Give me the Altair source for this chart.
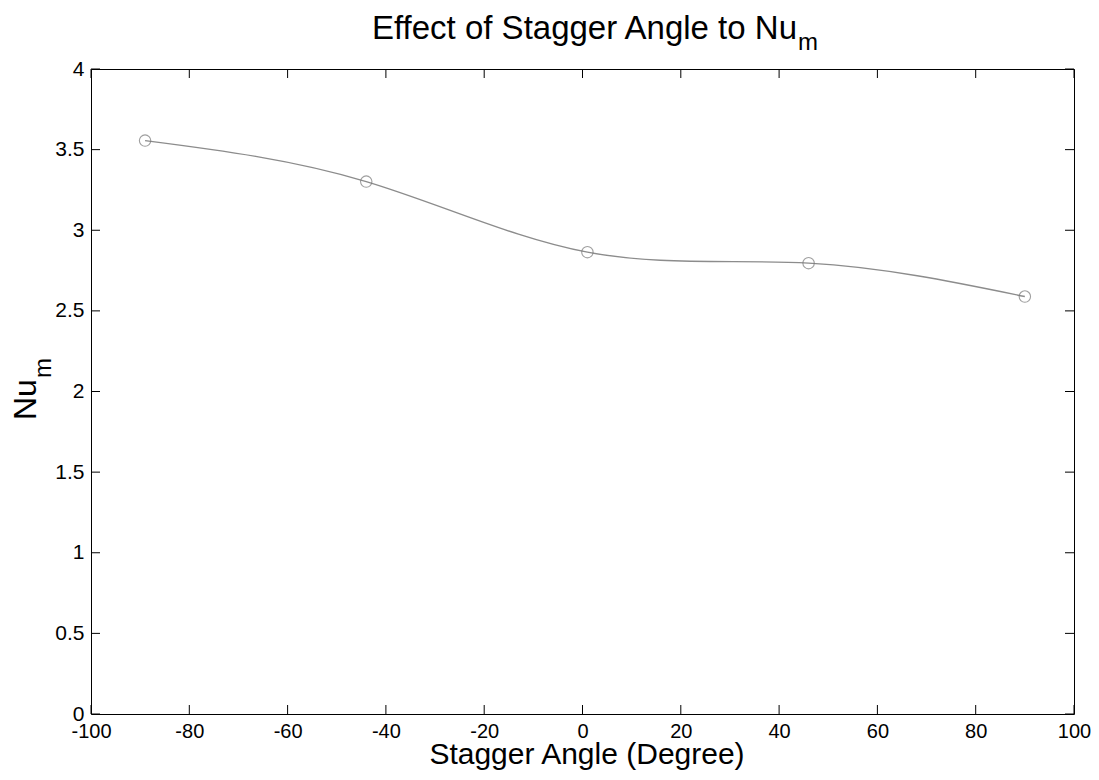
import altair as alt
import pandas as pd

# data
angle = [-89, -44, 1, 46, 90]
num = [3.556, 3.302, 2.864, 2.796, 2.589]
x_ticks = [-100, -80, -60, -40, -20, 0, 20, 40, 60, 80, 100]
y_ticks = [0, 0.5, 1, 1.5, 2, 2.5, 3, 3.5, 4]

title_main = "Effect of Stagger Angle to Nu"
title_sub = "m"
x_title = "Stagger Angle (Degree)"
y_main = "Nu"
y_sub = "m"

W, H = 983, 645
FONT = "Liberation Sans"
TL = 9  # tick length, inward

df = pd.DataFrame({"angle": angle, "num": num})
dfx = pd.DataFrame({"angle": x_ticks})
dfy = pd.DataFrame({"num": y_ticks})

xscale = alt.Scale(domain=[-100, 100], nice=False, zero=False)
yscale = alt.Scale(domain=[0, 4], nice=False, zero=False)

xaxis = alt.Axis(values=x_ticks, title=None, grid=False, domain=False, ticks=False,
                 labelFont=FONT, labelFontSize=20, labelColor="black",
                 labelPadding=7, labelFlush=False, labelOverlap=False,
                 labelExpr="'' + datum.value")
yaxis = alt.Axis(values=y_ticks, title=None, grid=False, domain=False, ticks=False,
                 labelFont=FONT, labelFontSize=21, labelColor="black",
                 labelPadding=7, labelFlush=False, labelOverlap=False,
                 labelExpr="'' + datum.value")

X = alt.X("angle:Q", scale=xscale, axis=xaxis)
Y = alt.Y("num:Q", scale=yscale, axis=yaxis)

base = alt.Chart(df)
line = base.mark_line(interpolate="natural", color="#8c8c8c", strokeWidth=1.4).encode(x=X, y=Y)
pts = base.mark_point(shape="circle", filled=False, size=130, color="#777777",
                      strokeWidth=1.1).encode(x=X, y=Y)

tick_style = dict(color="black", strokeWidth=1)
xt_bottom = alt.Chart(dfx).mark_rule(**tick_style).encode(
    x=X, y=alt.value(H), y2=alt.value(H - TL))
xt_top = alt.Chart(dfx).mark_rule(**tick_style).encode(
    x=X, y=alt.value(0), y2=alt.value(TL))
yt_left = alt.Chart(dfy).mark_rule(**tick_style).encode(
    y=Y, x=alt.value(0), x2=alt.value(TL))
yt_right = alt.Chart(dfy).mark_rule(**tick_style).encode(
    y=Y, x=alt.value(W), x2=alt.value(W - TL))


def label(text, size, x, y, align, angle_=None):
    kw = dict(font=FONT, fontSize=size, color="black", align=align, baseline="alphabetic")
    if angle_ is not None:
        kw["angle"] = angle_
    return alt.Chart(pd.DataFrame({"t": [text]})).mark_text(**kw).encode(
        text="t:N", x=alt.value(x), y=alt.value(y))


t1 = label(title_main, 33, 706, -30, "right")
t2 = label(title_sub, 24, 707, -19, "left")
xt = label(x_title, 30, 496, 695, "center")
y1 = label(y_main, 32, -55, 351, "left", 270)
y2 = label(y_sub, 24, -40, 309, "left", 270)

chart = alt.layer(line, pts, xt_bottom, xt_top, yt_left, yt_right, t1, t2, xt, y1, y2).properties(
    width=W, height=H,
    autosize=alt.AutoSizeParams(type="none"),
    padding={"left": 83, "top": 61, "right": 17, "bottom": 58},
).configure_view(stroke="black", strokeWidth=1)

chart.save("out.html", embed_options={"renderer": "svg", "actions": False})
